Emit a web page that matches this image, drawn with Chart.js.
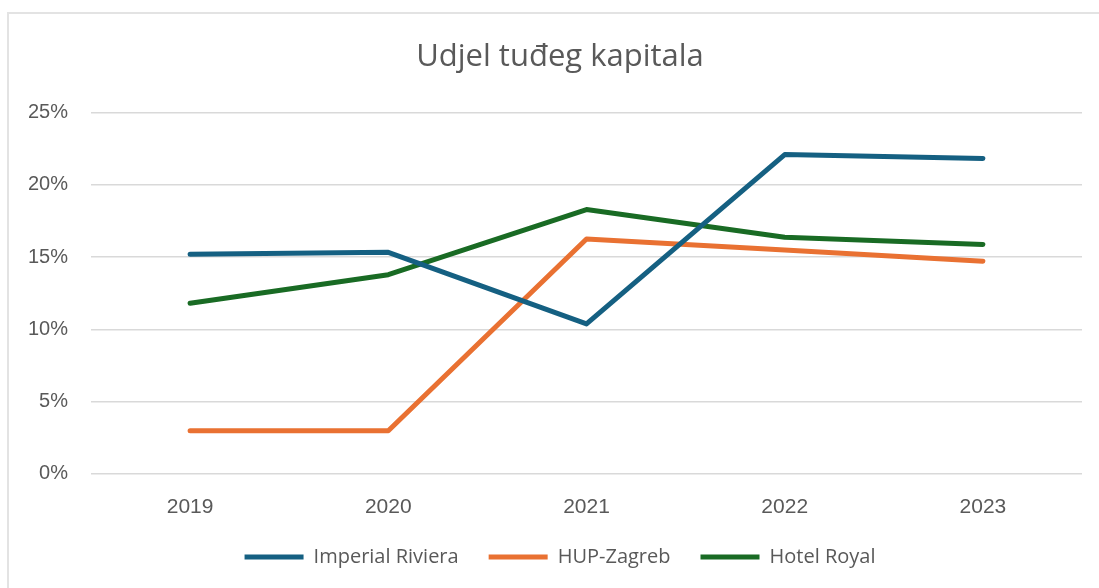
<!DOCTYPE html>
<html>
<head>
<meta charset="utf-8">
<script src="https://cdn.jsdelivr.net/npm/chart.js@4.4.1/dist/chart.umd.min.js"></script>
<style>
  html, body { margin: 0; padding: 0; background: #ffffff; }
  #frame { position: absolute; left: 7px; top: 12px; width: 1200px; height: 700px; border: 2px solid #e3e3e3; box-sizing: border-box; }
  #wrap { position: absolute; left: 0; top: 0; width: 1099px; height: 588px; }
</style>
</head>
<body>
<div id="frame"></div>
<div id="wrap"><canvas id="c" width="1099" height="588"></canvas></div>
<script>
const categories = ['2019', '2020', '2021', '2022', '2023'];
const imperialRiviera = [15.19, 15.33, 10.37, 22.1, 21.83];
const hupZagreb = [2.97, 2.97, 16.25, 15.5, 14.72];
const hotelRoyal = [11.8, 13.78, 18.29, 16.37, 15.88];
const yTicks = [0, 5, 10, 15, 20, 25];
const chartTitle = 'Udjel tuđeg kapitala';

const TEXT = '#595959';

function ds(label, data, color) {
  return {
    label, data,
    borderColor: color, backgroundColor: color,
    borderWidth: 5, borderCapStyle: 'round', borderJoinStyle: 'round',
    pointRadius: 0, pointHoverRadius: 0, tension: 0, fill: false,
    pointStyle: 'line'
  };
}

// center title and legend over the frame rather than the full canvas
const shiftHeader = {
  id: 'shiftHeader',
  afterLayout(chart) {
    if (chart.titleBlock) chart.titleBlock.left += 38;
    if (chart.legend) chart.legend.left += 38;
  }
};

new Chart(document.getElementById('c'), {
  type: 'line',
  data: {
    labels: categories,
    datasets: [
      ds('Imperial Riviera', imperialRiviera, '#156082'),
      ds('HUP-Zagreb', hupZagreb, '#E97132'),
      ds('Hotel Royal', hotelRoyal, '#196B24')
    ]
  },
  plugins: [shiftHeader],
  options: {
    responsive: false,
    animation: false,
    layout: { padding: { left: 0, right: 17, top: 39, bottom: 11 } },
    plugins: {
      title: {
        display: true, text: chartTitle, color: TEXT,
        font: { family: "'Open Sans', sans-serif", size: 31, weight: 'normal' },
        padding: { top: 0, bottom: 36.5 }
      },
      legend: {
        position: 'bottom',
        labels: {
          color: TEXT,
          font: { family: "'Open Sans', sans-serif", size: 20 },
          usePointStyle: true,
          pointStyleWidth: 59,
          padding: 30
        }
      },
      tooltip: { enabled: false }
    },
    scales: {
      x: {
        offset: true,
        grid: { display: false, drawTicks: false },
        border: { display: false },
        ticks: { color: TEXT, font: { family: "'Liberation Sans', Arial, sans-serif", size: 21 }, padding: 21 },
        afterFit: (s) => { s.height = 43.3; }
      },
      y: {
        min: 0, max: 25,
        afterBuildTicks: (s) => { s.ticks = yTicks.map(v => ({ value: v })); },
        grid: { color: '#d9d9d9', lineWidth: 1.5, drawTicks: false },
        border: { display: false },
        ticks: { color: TEXT, font: { family: "'Liberation Sans', Arial, sans-serif", size: 20 }, padding: 23, callback: (v) => v + '%' },
        afterFit: (s) => { s.width = 91; }
      }
    }
  }
});
</script>
</body>
</html>
